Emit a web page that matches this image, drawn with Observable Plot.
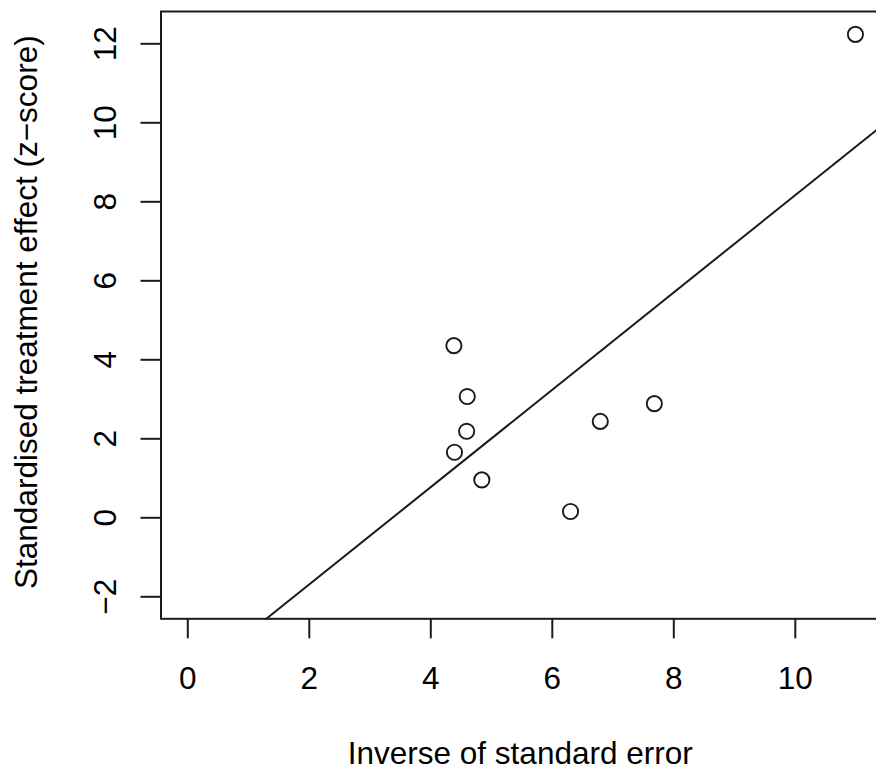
<!DOCTYPE html>
<html>
<head>
<meta charset="utf-8">
<script src="https://cdn.jsdelivr.net/npm/d3@7"></script>
<script src="https://cdn.jsdelivr.net/npm/@observablehq/plot@0.6"></script>
<style>
  html, body { margin: 0; padding: 0; background: #fff; }
  #chart svg { display: block; }
</style>
</head>
<body>
<div id="chart"></div>
<script>
// Inverse of standard error (precision) per study
const precision = [4.38, 4.60, 4.59, 4.39, 4.84, 6.30, 6.79, 7.68, 10.99];
// Standardised treatment effect (z-score) per study
const zscore = [4.36, 3.07, 2.19, 1.66, 0.96, 0.16, 2.44, 2.89, 12.24];
// Fitted regression line
const intercept = -4.15;
const slope = 1.232;
// Axis ticks
const xTicks = [0, 2, 4, 6, 8, 10];
const yTicks = [-2, 0, 2, 4, 6, 8, 10, 12];
const xDomain = [-0.441, 11.386];
const yDomain = [-2.557, 12.818];

const points = precision.map((x, i) => ({x, y: zscore[i]}));
// regression line clipped to plot region
const lineStartX = Math.max(xDomain[0], (yDomain[0] - intercept) / slope);
const lineEndX = Math.min(xDomain[1], (yDomain[1] - intercept) / slope);
const fitLine = [lineStartX, lineEndX].map(x => ({x, y: intercept + slope * x}));

const fs = 31.5;
const fmt = d3.format("d");
const ink = "#1a1a1a";

const chart = Plot.plot({
  width: 876,
  height: 771,
  marginLeft: 160.5,
  marginRight: -3,
  marginTop: 11,
  marginBottom: 152.7,
  style: {fontFamily: "'Liberation Sans', Arial, Helvetica, sans-serif", fontSize: fs + "px", color: "#000", background: "#fff"},
  x: {domain: xDomain, axis: null},
  y: {domain: yDomain, axis: null},
  marks: [
    Plot.frame({stroke: ink, strokeWidth: 2}),
    Plot.axisX(xTicks, {anchor: "bottom", tickSize: 20, tickFormat: () => "", stroke: ink, strokeWidth: 2, label: null}),
    Plot.axisY(yTicks, {anchor: "left", tickSize: 20, tickFormat: () => "", stroke: ink, strokeWidth: 2, label: null}),
    Plot.text(xTicks, {x: d => d, frameAnchor: "bottom", lineAnchor: "bottom", textAnchor: "middle", dy: 69.7, text: d => fmt(d), fontSize: fs, fill: "#000"}),
    Plot.text(yTicks, {y: d => d, frameAnchor: "left", lineAnchor: "bottom", textAnchor: "middle", rotate: -90, dx: -45.5, text: d => fmt(d), fontSize: fs, fill: "#000"}),
    Plot.text(["Inverse of standard error"], {frameAnchor: "bottom", lineAnchor: "bottom", textAnchor: "middle", dy: 145.5, fontSize: fs, fill: "#000"}),
    Plot.text(["Standardised treatment effect (z\u2212score)"], {frameAnchor: "left", lineAnchor: "bottom", textAnchor: "middle", rotate: -90, dx: -124, dy: -3, fontSize: fs, fill: "#000"}),
    Plot.line(fitLine, {x: "x", y: "y", stroke: ink, strokeWidth: 2}),
    Plot.dot(points, {x: "x", y: "y", r: 7.6, stroke: ink, strokeWidth: 1.9, fill: "none"})
  ]
});
document.getElementById("chart").appendChild(chart);
</script>
</body>
</html>
